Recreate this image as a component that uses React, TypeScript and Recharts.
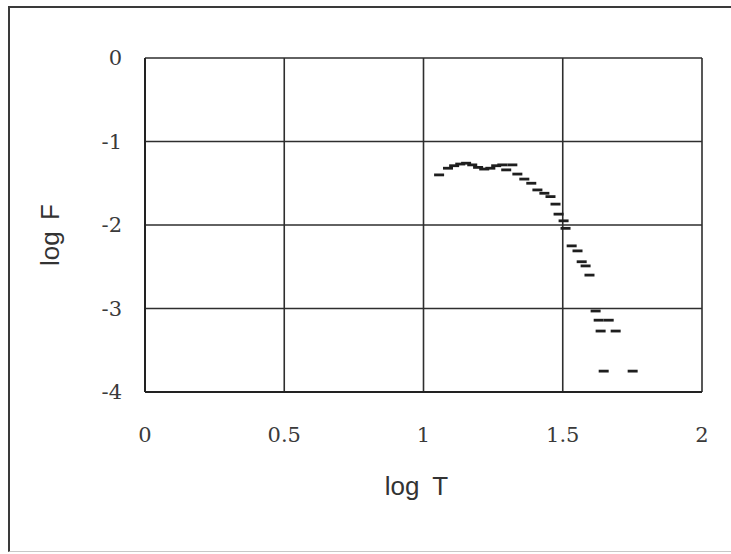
import { ScatterChart, Scatter, XAxis, YAxis, CartesianGrid } from "recharts";

// log T / log F readings, left to right
const logT = [
  1.056, 1.088, 1.11, 1.132, 1.153, 1.175, 1.196, 1.218, 1.24, 1.261, 1.283,
  1.297, 1.319, 1.337, 1.362, 1.387, 1.409, 1.434, 1.456, 1.474, 1.485, 1.503,
  1.51, 1.532, 1.553, 1.568, 1.582, 1.596, 1.618, 1.629, 1.665, 1.636, 1.69,
  1.647, 1.751,
];
const logF = [
  -1.4, -1.32, -1.29, -1.27, -1.26, -1.28, -1.31, -1.33, -1.32, -1.29, -1.28,
  -1.34, -1.28, -1.39, -1.45, -1.5, -1.58, -1.62, -1.66, -1.75, -1.87, -1.95,
  -2.04, -2.25, -2.31, -2.44, -2.49, -2.6, -3.03, -3.14, -3.14, -3.27, -3.27,
  -3.75, -3.75,
];
const xTicks = [0, 0.5, 1, 1.5, 2];
const yTicks = [-4, -3, -2, -1, 0];

const points = logT.map((t, i) => ({ t, f: logF[i] }));

const tickStyle = { fontFamily: "DejaVu Serif", fontSize: 21, fill: "#3a3a3a" };
const titleFont = "Liberation Sans";

const Dash = (props: any) => {
  const { cx, cy } = props;
  if (cx == null || cy == null) return null;
  return (
    <line x1={cx - 5} x2={cx + 5} y1={cy} y2={cy} stroke="#1e1e1e" strokeWidth={2.8} />
  );
};

export default function App() {
  return (
    <div
      style={{
        position: "absolute",
        top: 6,
        left: 8,
        width: 730,
        height: 543,
        borderTop: "2px solid #3a3a3a",
        borderLeft: "2px solid #3a3a3a",
        borderBottom: "1px solid #c8c8c8",
        background: "#fff",
      }}
    >
      <div style={{ position: "absolute", top: 0, left: 0 }}>
        <ScatterChart
          width={721}
          height={541}
          margin={{ top: 50, right: 29, bottom: 0, left: 0 }}
        >
          <CartesianGrid stroke="#2e2e2e" strokeWidth={1.6} />
          <XAxis
            type="number"
            dataKey="t"
            domain={[0, 2]}
            ticks={xTicks}
            tickLine={false}
            axisLine={{ stroke: "#222", strokeWidth: 2 }}
            tick={tickStyle}
            tickMargin={29}
            height={157}
            label={({ viewBox }: any) => (
              <text
                x={viewBox.x + viewBox.width / 2 - 7}
                y={viewBox.y + 94}
                textAnchor="middle"
                dominantBaseline="central"
                fontFamily={titleFont}
                fontSize={26}
                wordSpacing={6}
                fill="#333"
              >
                log T
              </text>
            )}
          />
          <YAxis
            type="number"
            dataKey="f"
            domain={[-4, 0]}
            ticks={yTicks}
            tickLine={false}
            axisLine={{ stroke: "#222", strokeWidth: 2 }}
            tick={tickStyle}
            tickMargin={17}
            width={135}
            label={({ viewBox }: any) => {
              const x = viewBox.x + 40;
              const y = viewBox.y + viewBox.height / 2 + 10;
              return (
                <text
                  x={x}
                  y={y}
                  transform={`rotate(-90 ${x} ${y})`}
                  textAnchor="middle"
                  dominantBaseline="central"
                  fontFamily={titleFont}
                  fontSize={26}
                  wordSpacing={4}
                  fill="#333"
                >
                  log F
                </text>
              );
            }}
          />
          <Scatter data={points} shape={Dash} isAnimationActive={false} />
        </ScatterChart>
      </div>
    </div>
  );
}
